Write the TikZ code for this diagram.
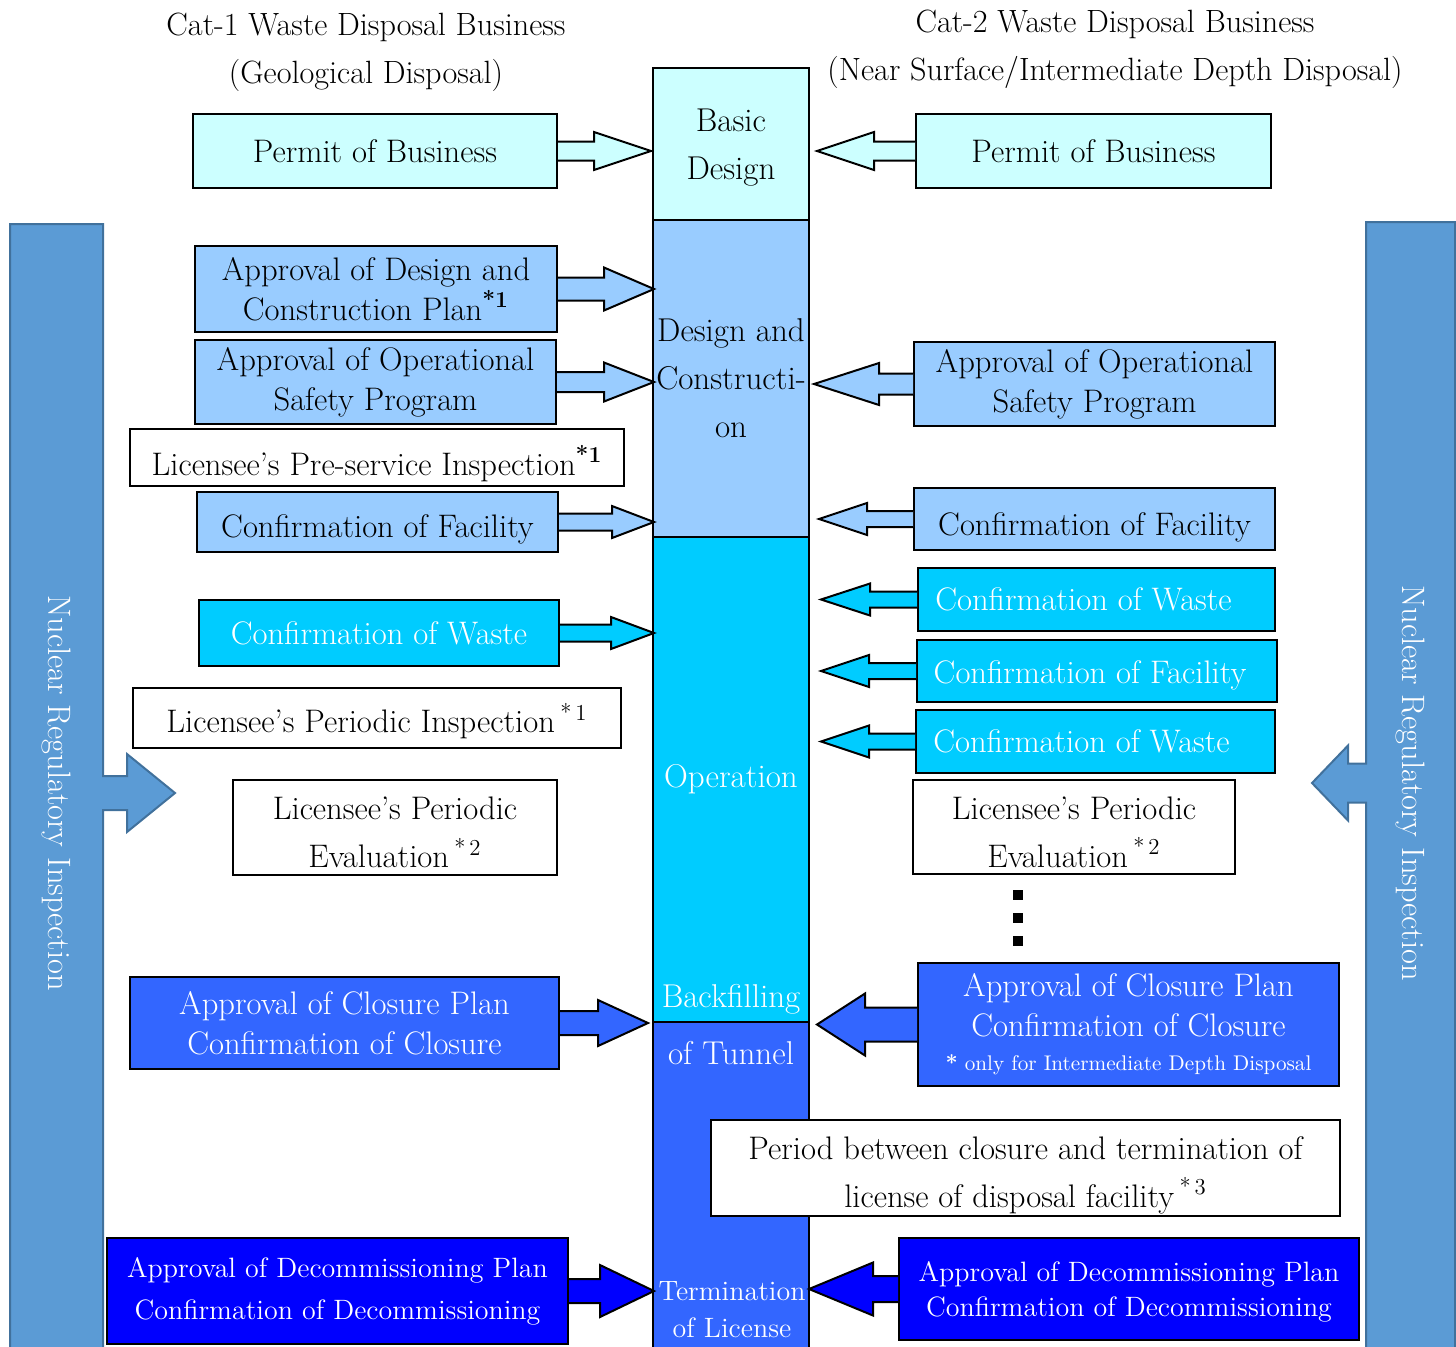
\documentclass[tikz,border=0pt]{standalone}
\usepackage{fontspec}
\usetikzlibrary{calc}
\definecolor{cA}{HTML}{CCFFFF}
\definecolor{cB}{HTML}{99CCFF}
\definecolor{cC}{HTML}{00CCFF}
\definecolor{cD}{HTML}{3366FF}
\definecolor{cE}{HTML}{0000FF}
\definecolor{barfill}{HTML}{5B9BD5}
\definecolor{barline}{HTML}{41719C}
\newcommand\fsz[2]{\fontsize{#1}{#2}\selectfont}
\tikzset{
  bx/.style={draw=black, line width=1pt, inner sep=0pt},
  tx/.style={inner sep=0pt, align=center, font=\fsz{16.3}{20}},
  arr/.style={draw=black, line width=1pt, line join=miter},
  colbox/.style={draw=black, line width=1pt, inner sep=0pt},
  coltext/.style={inner sep=0pt, align=center, font=\fsz{16.5}{24}},
  barst/.style={fill=barfill, draw=barline, line width=1pt, line join=miter},
  bartext/.style={text=white, rotate=-90, inner sep=0pt, font=\fsz{16.2}{18}},
  hdr/.style={inner sep=0pt, align=center, font=\fsz{16.1}{24}},
}
% box: name, x1, y1, x2, y2, box style, text style, text
\newcommand\bx[8]{\node[bx,#6,minimum width={(#4-#2)*0.5pt},minimum height={(#5-#3)*0.5pt}] (#1) at ({(#2+#4)/2},{(#3+#5)/2}) {};
  \node[tx,#7] (#1t) at (#1.center) {#8};}
\newcommand\cb[6]{\node[colbox,#6,minimum width={(#4-#2)*0.5pt},minimum height={(#5-#3)*0.5pt}] (#1) at ({(#2+#4)/2},{(#3+#5)/2}) {};}
% block arrow: anchor, colour, head base offset, tip offset, shaft half, head half
\newcommand\barr[6]{\filldraw[arr,fill=#2,shift={(#1)}] (0,#5) -- (#3,#5) -- (#3,#6) -- (#4,0) -- (#3,-#6) -- (#3,-#5) -- (0,-#5);}
\begin{document}
\begin{tikzpicture}[x=0.5pt,y=-0.5pt]
\useasboundingbox (0,0) rectangle (1456,1346);
% headers
\node[hdr] (h1) at (366,52.5) {Cat-1 Waste Disposal Business\\(Geological Disposal)};
\node[hdr] (h2) at (1115,49.5) {Cat-2 Waste Disposal Business\\(Near Surface/Intermediate Depth Disposal)};
% side bars
\filldraw[barst] (10,224) -- (103,224) -- (103,776) -- (127,776) -- (127,754) -- (175,793) -- (127,832) -- (127,810) -- (103,810) -- (103,1352) -- (10,1352) -- cycle;
\node[bartext] (lbt) at (56,793) {Nuclear Regulatory Inspection};
\filldraw[barst] (1366,222) -- (1455,222) -- (1455,1352) -- (1366,1352) -- (1366,802.5) -- (1348,802.5) -- (1348,820.5) -- (1312,783) -- (1348,745.5) -- (1348,763.5) -- (1366,763.5) -- cycle;
\node[bartext] (rbt) at (1410,783) {Nuclear Regulatory Inspection};
% central column
\cb{c1}{653}{68}{809}{220}{fill=cA}
\cb{c2}{653}{220}{809}{537}{fill=cB}
\cb{c3}{653}{537}{809}{1022}{fill=cC}
\cb{c4}{653}{1022}{809}{1350}{fill=cD}
\node[coltext] (t1) at (731,148) {Basic\\Design};
\node[coltext] (t2) at (731,378.5) {Design and\\Constructi-\\on};
\node[coltext,text=white] (t3) at (731,779) {Operation};
\node[coltext,text=white] (t4) at (731,999) {Backfilling};
\node[coltext,text=white] (t5) at (731,1053) {of Tunnel};
\node[coltext,text=white,font=\fsz{14}{18.5}] (t6) at (732,1310) {Termination\\of License};
% left side (Cat-1)
\bx{pL1}{193}{114}{557}{188}{fill=cA}{}{Permit of Business}
\barr{pL1.east}{cA}{36}{93}{9.5}{19}
\bx{pL2}{195}{246}{557}{332}{fill=cB}{}{Approval of Design and\\Construction Plan\textsuperscript{\textbf{*1}}}
\barr{pL2.east}{cB}{46}{96}{11.5}{21.5}
\bx{pL3}{195}{340}{556}{424}{fill=cB}{}{Approval of Operational\\Safety Program}
\barr{pL3.east}{cB}{47}{97}{10}{19.5}
\bx{pL4}{130}{429}{624}{486}{fill=white}{yshift=-3pt}{Licensee's Pre-service Inspection\textsuperscript{\textbf{*1}}}
\bx{pL5}{197}{492}{558}{552}{fill=cB}{yshift=-3.5pt}{Confirmation of Facility}
\barr{pL5.east}{cB}{53}{95}{8.5}{16}
\bx{pL6}{199}{600}{559}{666}{fill=cC}{text=white}{Confirmation of Waste}
\barr{pL6.east}{cC}{51}{94}{8.5}{16}
\bx{pL7}{133}{688}{621}{748}{fill=white}{yshift=-1.5pt}{Licensee's Periodic Inspection\,\textsuperscript{*\,1}}
\bx{pL8}{233}{780}{557}{875}{fill=white}{font=\fsz{16.3}{24},yshift=-2.5pt}{Licensee's Periodic\\Evaluation\,\textsuperscript{*\,2}}
\bx{pL9}{130}{977}{559}{1069}{fill=cD}{text=white}{Approval of Closure Plan\\Confirmation of Closure}
\barr{pL9.east}{cD}{38}{88}{12}{23}
\bx{pL10}{107}{1238}{568}{1344}{fill=cE}{text=white,font=\fsz{14}{21}}{Approval of Decommissioning Plan\\Confirmation of Decommissioning}
\barr{pL10.east}{cE}{31}{85}{12}{26}
% right side (Cat-2)
\bx{pR1}{916}{114}{1271}{188}{fill=cA}{}{Permit of Business}
\barr{pR1.west}{cA}{-41}{-98}{9.5}{19}
\bx{pR2}{914}{342}{1275}{426}{fill=cB}{}{Approval of Operational\\Safety Program}
\barr{pR2.west}{cB}{-34}{-99}{10.5}{21}
\bx{pR3}{914}{488}{1275}{550}{fill=cB}{yshift=-4pt}{Confirmation of Facility}
\barr{pR3.west}{cB}{-46}{-94}{8}{16}
\bx{pR4}{918}{568}{1275}{631}{fill=cC}{text=white,xshift=-6.5pt}{Confirmation of Waste}
\barr{pR4.west}{cC}{-47}{-96}{8}{16}
\bx{pR5}{917}{640}{1277}{702}{fill=cC}{text=white,xshift=-3.5pt,yshift=-2pt}{Confirmation of Facility}
\barr{pR5.west}{cC}{-47}{-95}{8}{16}
\bx{pR6}{916}{710}{1275}{773}{fill=cC}{text=white,xshift=-7pt}{Confirmation of Waste}
\barr{pR6.west}{cC}{-46}{-94}{8}{16}
\bx{pR7}{913}{780}{1235}{874}{fill=white}{font=\fsz{16.3}{24},yshift=-2.5pt}{Licensee's Periodic\\Evaluation\,\textsuperscript{*\,2}}
\node[fill=black,inner sep=0pt,minimum size=5pt] (d1) at (1018,895) {};
\node[fill=black,inner sep=0pt,minimum size=5pt] (d2) at (1018,918) {};
\node[fill=black,inner sep=0pt,minimum size=5pt] (d3) at (1018,941) {};
\bx{pR8}{918}{963}{1339}{1086}{fill=cD}{text=white}{Approval of Closure Plan\\Confirmation of Closure\\[-3pt]{\fsz{10.6}{13}\textbf{*} only for Intermediate Depth Disposal}}
\barr{pR8.west}{cD}{-52}{-100}{17}{31}
\bx{pR9}{711}{1120}{1340}{1216}{fill=white}{font=\fsz{16.3}{24},yshift=-3.5pt}{Period between closure and termination of\\license of disposal facility\,\textsuperscript{*\,3}}
\bx{pR10}{899}{1238}{1359}{1340}{fill=cE}{text=white,font=\fsz{14}{17.5},yshift=-1.5pt}{Approval of Decommissioning Plan\\Confirmation of Decommissioning}
\barr{pR10.west}{cE}{-25}{-89}{13}{26.5}
\end{tikzpicture}
\end{document}
